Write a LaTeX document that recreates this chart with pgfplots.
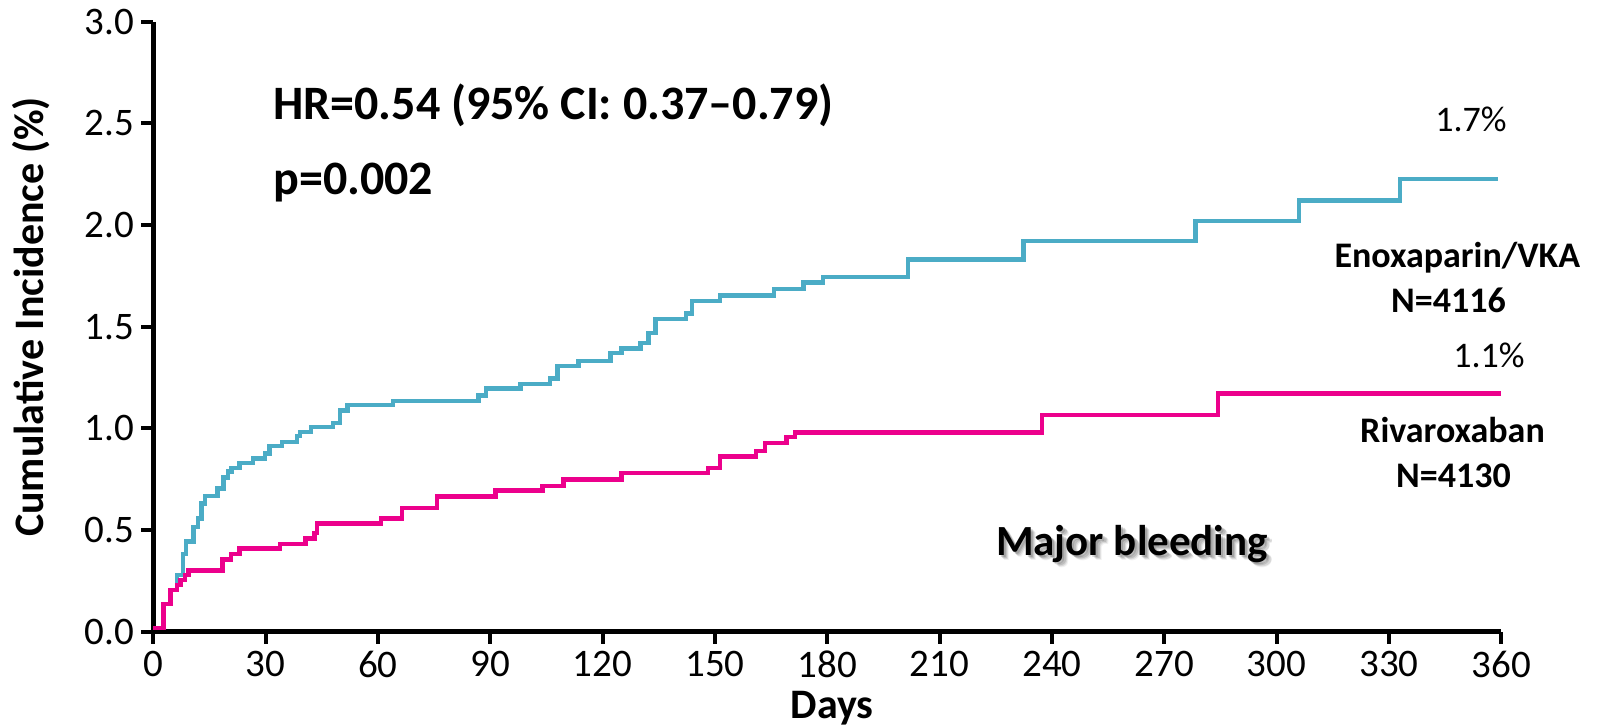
\documentclass[border=0pt]{standalone}
\usepackage{fontspec}
\setmainfont{Carlito}
\usepackage{pgfplots}
\pgfplotsset{compat=1.18}
\definecolor{enoxblue}{RGB}{75,172,198}
\definecolor{rivapink}{RGB}{236,0,140}
\begin{document}
\begin{tikzpicture}
\useasboundingbox (-76.65bp,-48.15bp) rectangle (721.85bp,315.85bp);
\begin{axis}[
  at={(0,0)}, anchor=south west,
  scale only axis,
  width=674bp, height=305bp,
  xmin=0, xmax=360, ymin=0, ymax=3,
  axis x line*=bottom, axis y line*=left,
  axis line style={line width=2.6bp, black, -},
  xtick={0,30,...,360},
  ytick={0,0.5,...,3},
  tick align=outside,
  major tick length=6bp,
  tick style={line width=1.9bp, black},
  /pgf/number format/assume math mode=true,
  yticklabel style={/pgf/number format/.cd, fixed, fixed zerofill, precision=1},
  ticklabel style={font=\fontsize{19.5bp}{22bp}\selectfont},
  clip=false,
]
\addplot[const plot, color=enoxblue, line width=2.2bp] coordinates {
(0,0.017) (2.7,0.136) (4.6,0.205) (6.4,0.279) (7.9,0.382) (8.7,0.443)
(10.7,0.516) (12.0,0.557) (12.9,0.631) (13.8,0.667) (17.1,0.705) (18.7,0.759)
(20.0,0.787) (20.9,0.806) (23.0,0.831) (26.7,0.852) (29.9,0.877) (31.0,0.913)
(34.3,0.934) (38.3,0.962) (39.2,0.983) (42.1,1.008) (48.0,1.025) (49.9,1.087)
(51.9,1.115) (64.0,1.135) (86.8,1.161) (88.9,1.197) (98.1,1.217) (105.9,1.246)
(107.9,1.308) (113.6,1.332) (122.1,1.372) (125.0,1.393) (130.1,1.421) (132.3,1.470)
(134.1,1.537) (142.2,1.565) (143.8,1.625) (151.4,1.654) (165.8,1.684) (173.6,1.717)
(178.9,1.744) (201.5,1.831) (232.4,1.921) (278.3,2.020) (305.9,2.120) (333.0,2.226)
(359,2.226)
};
\addplot[const plot, color=rivapink, line width=2.2bp] coordinates {
(0,0.017) (2.7,0.136) (4.6,0.205) (6.4,0.230) (7.3,0.254) (8.5,0.279)
(9.4,0.300) (18.5,0.356) (20.7,0.382) (23.0,0.410) (33.9,0.430) (40.6,0.459)
(43.0,0.484) (43.7,0.533) (60.8,0.557) (66.4,0.607) (75.7,0.664) (91.4,0.695)
(103.9,0.718) (109.6,0.748) (125.0,0.780) (148.1,0.805) (151.4,0.862) (160.9,0.890)
(163.4,0.927) (169.1,0.957) (171.4,0.979) (237.3,1.066) (284.3,1.172) (360,1.172)
};
\end{axis}
% axis labels
\node[anchor=base, font=\fontsize{21bp}{24bp}\selectfont\bfseries] at (339.35bp,-43.15bp) {Days};
\node[anchor=base, rotate=90, font=\fontsize{21bp}{24bp}\selectfont\bfseries] at (-54.65bp,157.35bp) {Cumulative Incidence (\%)};
% annotations
\node[anchor=base west, inner sep=0pt, font=\fontsize{24bp}{28bp}\selectfont\bfseries] at (59.85bp,255.85bp) {HR=0.54 (95\% CI: 0.37–0.79)};
\node[anchor=base west, inner sep=0pt, font=\fontsize{24bp}{28bp}\selectfont\bfseries] at (59.85bp,218.5bp) {p=0.002};
\foreach \dx/\dy/\op in {2.2/-2.2/0.10, 1.6/-1.8/0.12, 1.0/-1.4/0.15, 2.6/-2.8/0.06}{
  \node[anchor=base, inner sep=0pt, text=black, opacity=\op, xshift=\dx bp, yshift=\dy bp, font=\fontsize{21.5bp}{24bp}\selectfont\bfseries] at (489.35bp,38.35bp) {Major bleeding};
}
\node[anchor=base, inner sep=0pt, font=\fontsize{21.5bp}{24bp}\selectfont\bfseries] at (489.35bp,38.35bp) {Major bleeding};
\node[anchor=base, inner sep=0pt, font=\fontsize{18bp}{20bp}\selectfont] at (658.85bp,250bp) {1.7\%};
\node[anchor=base, inner sep=0pt, font=\fontsize{18bp}{20bp}\selectfont\bfseries] at (652bp,181.85bp) {Enoxaparin/VKA};
\node[anchor=base, inner sep=0pt, font=\fontsize{18bp}{20bp}\selectfont\bfseries] at (647.6bp,159.35bp) {N=4116};
\node[anchor=base, inner sep=0pt, font=\fontsize{18bp}{20bp}\selectfont] at (667.85bp,131.85bp) {1.1\%};
\node[anchor=base, inner sep=0pt, font=\fontsize{18bp}{20bp}\selectfont\bfseries] at (649.6bp,94.35bp) {Rivaroxaban};
\node[anchor=base, inner sep=0pt, font=\fontsize{18bp}{20bp}\selectfont\bfseries] at (650.1bp,71.85bp) {N=4130};
\end{tikzpicture}
\end{document}
